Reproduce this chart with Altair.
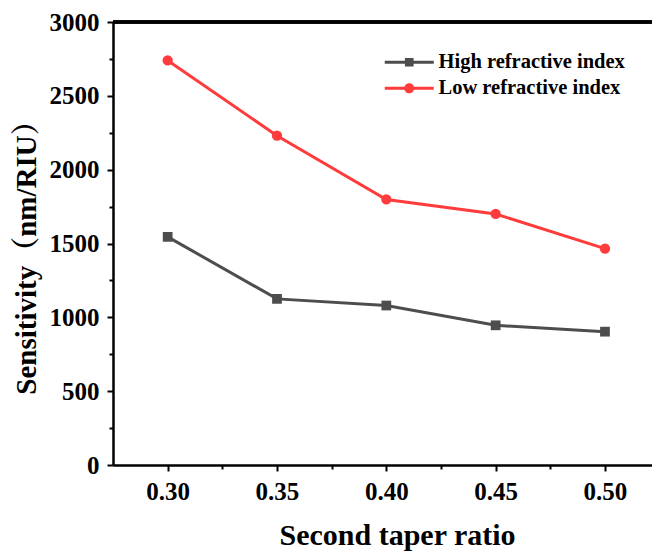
import altair as alt
import pandas as pd

ratios = [0.30, 0.35, 0.40, 0.45, 0.50]
high = [1545, 1125, 1080, 946, 903]
low = [2740, 2230, 1798, 1700, 1465]
series_names = ["High refractive index", "Low refractive index"]
colors = ["#4d4d4d", "#ff3b3b"]
x_ticks = [0.30, 0.35, 0.40, 0.45, 0.50]
x_minor = [0.325, 0.375, 0.425, 0.475]
y_ticks = [0, 500, 1000, 1500, 2000, 2500, 3000]
y_minor = [250, 750, 1250, 1750, 2250, 2750]

df = pd.DataFrame({
    "ratio": ratios * 2,
    "sens": high + low,
    "series": [series_names[0]] * len(ratios) + [series_names[1]] * len(ratios),
})

FONT = "Liberation Serif, Noto Serif CJK SC, Noto Sans CJK SC"

xscale = alt.Scale(domain=[0.275, 0.5215], nice=False, zero=False)
yscale = alt.Scale(domain=[0, 3000], nice=False, zero=False)
cscale = alt.Scale(domain=series_names, range=colors)

main_x = alt.X("ratio:Q", scale=xscale, axis=alt.Axis(
    values=x_ticks, format=".2f", title="Second taper ratio", orient="bottom",
    grid=False, domainColor="black", domainWidth=2.5, tickColor="black",
    tickWidth=2, tickSize=6, labelFont=FONT, labelFontSize=25,
    labelFontWeight="bold", labelColor="black", labelPadding=8,
    titleFont=FONT, titleFontSize=30, titleFontWeight="bold",
    titleColor="black", titlePadding=16, titleX=284))
main_y = alt.Y("sens:Q", scale=yscale, axis=alt.Axis(
    values=y_ticks, format="d", title="Sensitivity（nm/RIU）", orient="left",
    grid=False, domainColor="black", domainWidth=2.5, tickColor="black",
    tickWidth=2, tickSize=6, labelFont=FONT, labelFontSize=25,
    labelFontWeight="bold", labelColor="black", labelPadding=8,
    titleFont=FONT, titleFontSize=29, titleFontWeight="bold",
    titleColor="black", titlePadding=8, titleY=228))

nx = alt.X("ratio:Q", scale=xscale, axis=None)
ny = alt.Y("sens:Q", scale=yscale, axis=None)


def series_layers(name, color, marker):
    base = alt.Chart(df).transform_filter(alt.datum.series == name)
    ln = base.mark_line(strokeWidth=3, color=color).encode(x=nx, y=ny)
    if marker == "square":
        mk = base.mark_square(size=95, opacity=1, color=color).encode(x=nx, y=ny)
    else:
        mk = base.mark_circle(size=105, opacity=1, color=color).encode(x=nx, y=ny)
    return [ln, mk]


high_layers = series_layers(series_names[0], colors[0], "square")
low_layers = series_layers(series_names[1], colors[1], "circle")

path_sq = "M-3.5,-0.21H3.5V0.21H-3.5Z M-0.62,-0.62H0.62V0.62H-0.62Z"
path_ci = ("M-3.5,-0.21H3.5V0.21H-3.5Z "
           "M-0.72,0A0.72,0.72 0 1,1 0.72,0A0.72,0.72 0 1,1 -0.72,0Z")

leg = alt.Legend(
    title=None, orient="none", legendX=286, legendY=30,
    symbolSize=196, symbolStrokeWidth=0, labelOffset=19,
    labelFont=FONT, labelFontSize=20.5, labelFontWeight="bold",
    labelColor="black", rowPadding=5, padding=0, labelLimit=400)

legend_layer = alt.Chart(df).transform_filter("false").mark_point(
    filled=True, opacity=1
).encode(
    x=nx, y=ny,
    color=alt.Color("series:N", scale=cscale, legend=leg),
    shape=alt.Shape("series:N", scale=alt.Scale(domain=series_names, range=[path_sq, path_ci]),
                    legend=leg),
)

minor = alt.Chart(df).mark_point(opacity=0).encode(
    x=alt.X("ratio:Q", scale=xscale, axis=alt.Axis(
        values=x_minor, labels=False, title=None, domain=False, grid=False,
        orient="bottom", tickColor="black", tickWidth=2, tickSize=4)),
    y=alt.Y("sens:Q", scale=yscale, axis=alt.Axis(
        values=y_minor, labels=False, title=None, domain=False, grid=False,
        orient="left", tickColor="black", tickWidth=2, tickSize=4)),
)

top_border = alt.Chart(df).mark_rule(color="black", strokeWidth=2.5).encode(
    y=alt.Y(datum=3000, scale=yscale, axis=None)
)

main_axes = alt.Chart(df).mark_point(opacity=0).encode(x=main_x, y=main_y)

chart = alt.layer(
    main_axes, minor, *high_layers, *low_layers, legend_layer, top_border
).resolve_axis(
    x="independent", y="independent"
).properties(
    width=539, height=443,
    autosize=alt.AutoSizeParams(type="none"),
    padding={"left": 113, "top": 22, "right": 0, "bottom": 86},
    background="white",
).configure_view(stroke=None)

chart.save("out.html", embed_options={"renderer": "svg", "actions": False})
